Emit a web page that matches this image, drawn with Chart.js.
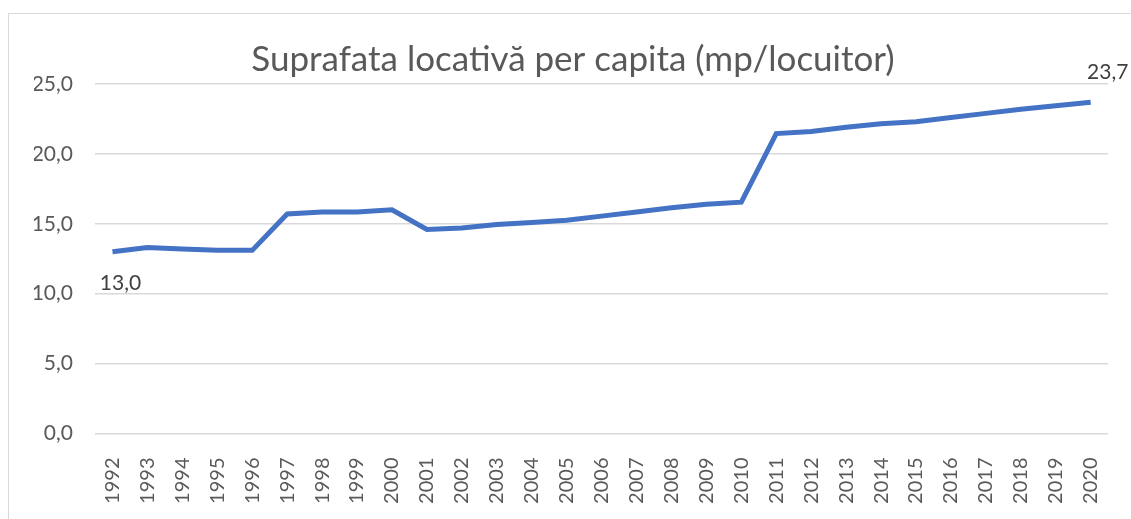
<!DOCTYPE html>
<html>
<head>
<meta charset="utf-8">
<script src="https://cdn.jsdelivr.net/npm/chart.js@4/dist/chart.umd.min.js"></script>
<style>
  html, body { margin: 0; padding: 0; background: #fff; overflow: hidden; }
  #wrap { position: relative; width: 1131px; height: 519px; }
  #frame { position: absolute; left: 8px; top: 13px; width: 1300px; height: 700px; border: 1px solid #d9d9d9; }
  canvas { position: absolute; left: 0; top: 0; }
</style>
</head>
<body>
<div id="wrap">
  <div id="frame"></div>
  <canvas id="myChart" width="1131" height="519"></canvas>
</div>
<script>
const years = ["1992", "1993", "1994", "1995", "1996", "1997", "1998", "1999", "2000", "2001",
  "2002", "2003", "2004", "2005", "2006", "2007", "2008", "2009", "2010", "2011",
  "2012", "2013", "2014", "2015", "2016", "2017", "2018", "2019", "2020"];
const surface = [13.0, 13.3, 13.2, 13.1, 13.1, 15.7, 15.85, 15.85, 16.0, 14.6,
  14.7, 14.95, 15.1, 15.25, 15.55, 15.85, 16.15, 16.4, 16.55, 21.45,
  21.6, 21.9, 22.15, 22.3, 22.6, 22.9, 23.2, 23.45, 23.7];
const yTicks = [0, 5, 10, 15, 20, 25];

const fmt = v => v.toFixed(1).replace(".", ",");

// value labels on the first and last point
const endLabels = {
  id: "endLabels",
  afterDatasetsDraw(chart) {
    const ctx = chart.ctx;
    const xs = chart.scales.x, ys = chart.scales.y;
    const last = surface.length - 1;
    ctx.save();
    ctx.font = "21px Lato";
    ctx.fillStyle = "#404040";
    ctx.textAlign = "center";
    ctx.textBaseline = "middle";
    ctx.fillText(fmt(surface[0]), xs.getPixelForValue(0) + 8, ys.getPixelForValue(surface[0]) + 31);
    ctx.fillText(fmt(surface[last]), xs.getPixelForValue(last) + 17, ys.getPixelForValue(surface[last]) - 30);
    ctx.restore();
  }
};

new Chart(document.getElementById("myChart").getContext("2d"), {
  type: "line",
  data: {
    labels: years,
    datasets: [{
      label: "Suprafata locativă per capita",
      data: surface,
      borderColor: "#4472C4",
      borderWidth: 5,
      pointRadius: 0,
      fill: false,
      tension: 0
    }]
  },
  options: {
    responsive: false,
    animation: false,
    // left/right padding also keeps the title centred on the frame
    layout: { padding: { left: 34, right: 19, top: 0, bottom: 0 } },
    plugins: {
      legend: { display: false },
      tooltip: { enabled: false },
      title: {
        display: true,
        text: "Suprafata locativă per capita (mp/locuitor)",
        color: "#595959",
        font: { family: "Lato", size: 35, weight: "normal", lineHeight: 1.2 },
        padding: { top: 39, bottom: 3 }
      }
    },
    scales: {
      x: {
        offset: true,
        grid: { display: false },
        border: { display: false },
        ticks: {
          color: "#595959",
          font: { family: "Lato", size: 20 },
          minRotation: 90,
          maxRotation: 90,
          autoSkip: false,
          padding: 16
        },
        afterFit(scale) { scale.height = 85.5; }
      },
      y: {
        min: 0,
        max: 25,
        afterBuildTicks(scale) { scale.ticks = yTicks.map(v => ({ value: v })); },
        grid: { color: "#d9d9d9", lineWidth: 1.5, drawTicks: false },
        border: { display: false },
        ticks: {
          color: "#595959",
          font: { family: "Lato", size: 21 },
          padding: 22,
          callback: v => fmt(v)
        },
        afterFit(scale) { scale.width = 61; }
      }
    }
  },
  plugins: [endLabels]
});
</script>
</body>
</html>
